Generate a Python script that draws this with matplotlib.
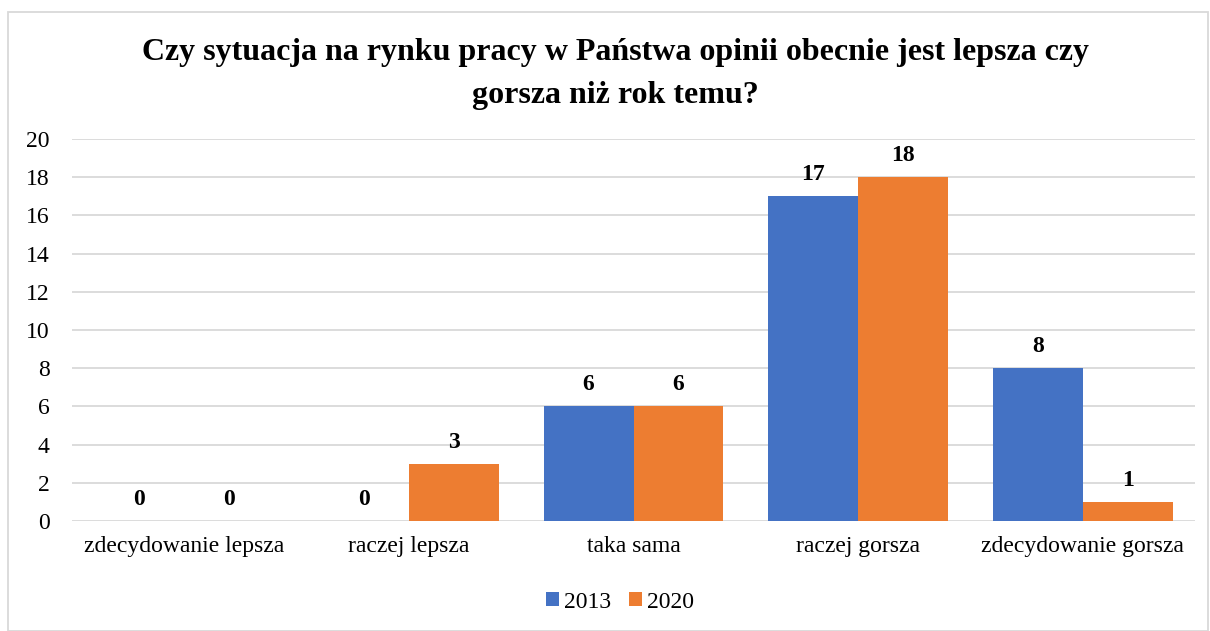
import matplotlib
matplotlib.use("Agg")
import matplotlib.pyplot as plt
import numpy as np
from matplotlib.patches import Rectangle

categories = ["zdecydowanie lepsza", "raczej lepsza", "taka sama", "raczej gorsza", "zdecydowanie gorsza"]
series_names = ["2013", "2020"]
values_2013 = [0, 0, 6, 17, 8]
values_2020 = [0, 3, 6, 18, 1]
yticks = [0, 2, 4, 6, 8, 10, 12, 14, 16, 18, 20]
title = "Czy sytuacja na rynku pracy w Państwa opinii obecnie jest lepsza czy\ngorsza niż rok temu?"

colors = ["#4472C4", "#ED7D31"]
plt.rcParams['font.family'] = ['Liberation Serif', 'DejaVu Serif']

fig = plt.figure(figsize=(12.1, 6.31), dpi=100)
ax = fig.add_axes([72/1210, 110/631, (1195-72)/1210, (521-139)/631])

x = np.arange(len(categories))
w = 0.4
b1 = ax.bar(x - w/2, values_2013, w, color=colors[0], label=series_names[0], zorder=3)
b2 = ax.bar(x + w/2, values_2020, w, color=colors[1], label=series_names[1], zorder=3)

for bars, vals in ((b1, values_2013), (b2, values_2020)):
    for r, v in zip(bars, vals):
        ax.annotate(str(v), (r.get_x() + r.get_width()/2, v), xytext=(0, 8),
                    textcoords="offset points", ha="center", va="bottom",
                    fontsize=17, fontweight="bold", color="#000000")

ax.set_xlim(-0.5, len(categories) - 0.5)
ax.set_ylim(0, 20)
ax.set_yticks(yticks)
ax.set_yticklabels([str(t) for t in yticks], fontsize=17)
ax.set_xticks(x)
ax.set_xticklabels(categories, fontsize=17)
ax.tick_params(axis='both', length=0)
ax.tick_params(axis='y', pad=16)
ax.tick_params(axis='x', pad=11)
ax.grid(axis='y', color="#D9D9D9", linewidth=1.3, zorder=0)
for s in ax.spines.values():
    s.set_visible(False)

fig.text(615/1210, 1 - 74/631, title, ha="center", va="center", fontsize=23,
         fontweight="bold", linespacing=1.62)

leg = fig.legend(handles=[b1, b2], labels=series_names, loc="center",
                 bbox_to_anchor=(620/1210, 1 - 602/631), ncol=2, frameon=False,
                 fontsize=17, handlelength=0.55, handleheight=0.55, columnspacing=0.75,
                 handletextpad=0.2)

fig.patches.append(Rectangle((8/1210, 0), (1208-8)/1210, 1 - 12/631, transform=fig.transFigure,
                             fill=False, edgecolor="#D9D9D9", linewidth=1.3))

fig.savefig("out.png", dpi=100)
